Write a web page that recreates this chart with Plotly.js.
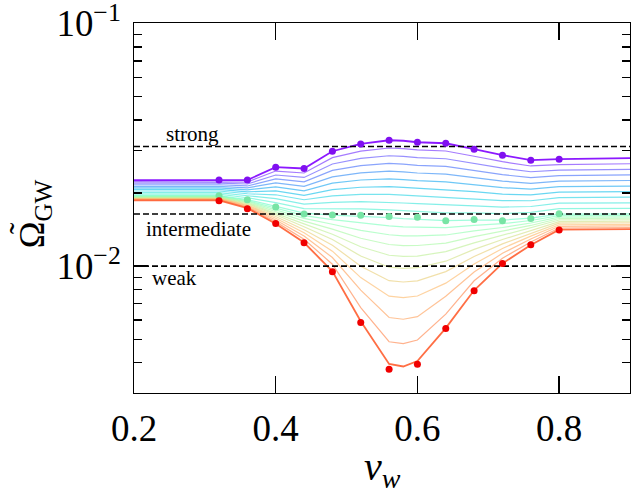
<!DOCTYPE html>
<html>
<head>
<meta charset="utf-8">
<script src="https://cdn.plot.ly/plotly-3.0.1.min.js"></script>
<style>html,body{margin:0;padding:0;background:#fff;}#chart{width:639px;height:493px;}</style>
</head>
<body>
<div id="chart"></div>
<script>
// wall velocity nodes
const vw = [0.2, 0.32, 0.36, 0.40, 0.44, 0.48, 0.52, 0.56, 0.58, 0.60, 0.64, 0.68, 0.72, 0.76, 0.80, 0.9];

// family of curves, from strong (c00) through intermediate (c10) to weak (c20)
const c00 = [0.02263,0.02263,0.02263,0.02559,0.02525,0.02975,0.03188,0.03302,0.03286,0.03240,0.03209,0.03033,0.02865,0.02733,0.02759,0.02785];
const c01 = [0.02230,0.02230,0.02221,0.02465,0.02420,0.02800,0.02977,0.03068,0.03052,0.03012,0.02982,0.02836,0.02694,0.02587,0.02619,0.02642];
const c02 = [0.02197,0.02197,0.02180,0.02374,0.02320,0.02635,0.02780,0.02851,0.02835,0.02800,0.02771,0.02651,0.02533,0.02449,0.02486,0.02506];
const c03 = [0.02165,0.02165,0.02140,0.02287,0.02224,0.02480,0.02596,0.02650,0.02633,0.02604,0.02575,0.02479,0.02382,0.02318,0.02360,0.02376];
const c04 = [0.02133,0.02133,0.02101,0.02203,0.02132,0.02334,0.02424,0.02462,0.02446,0.02420,0.02393,0.02318,0.02240,0.02194,0.02240,0.02254];
const c05 = [0.02101,0.02101,0.02062,0.02122,0.02044,0.02197,0.02264,0.02288,0.02272,0.02250,0.02224,0.02167,0.02106,0.02076,0.02126,0.02138];
const c06 = [0.02070,0.02070,0.02024,0.02044,0.01959,0.02068,0.02114,0.02126,0.02110,0.02092,0.02066,0.02026,0.01980,0.01965,0.02018,0.02028];
const c07 = [0.02040,0.02040,0.01987,0.01968,0.01878,0.01946,0.01974,0.01976,0.01960,0.01945,0.01920,0.01894,0.01862,0.01860,0.01915,0.01923];
const c08 = [0.02010,0.02010,0.01950,0.01896,0.01800,0.01832,0.01844,0.01836,0.01820,0.01808,0.01784,0.01771,0.01751,0.01761,0.01818,0.01824];
const c09 = [0.01980,0.01980,0.01914,0.01826,0.01726,0.01724,0.01722,0.01706,0.01691,0.01681,0.01658,0.01656,0.01646,0.01667,0.01726,0.01730];
const c10 = [0.01951,0.01951,0.01879,0.01759,0.01654,0.01622,0.01608,0.01585,0.01570,0.01563,0.01541,0.01548,0.01548,0.01577,0.01638,0.01641];
const c11 = [0.01943,0.01943,0.01864,0.01733,0.01614,0.01555,0.01506,0.01466,0.01452,0.01447,0.01442,0.01473,0.01496,0.01542,0.01616,0.01619];
const c12 = [0.01934,0.01934,0.01850,0.01706,0.01573,0.01488,0.01405,0.01347,0.01333,0.01332,0.01344,0.01398,0.01443,0.01506,0.01593,0.01597];
const c13 = [0.01926,0.01926,0.01835,0.01680,0.01533,0.01421,0.01303,0.01228,0.01215,0.01216,0.01245,0.01322,0.01391,0.01471,0.01571,0.01575];
const c14 = [0.01917,0.01917,0.01821,0.01654,0.01493,0.01354,0.01202,0.01109,0.01096,0.01100,0.01147,0.01247,0.01339,0.01435,0.01549,0.01553];
const c15 = [0.01909,0.01909,0.01806,0.01628,0.01453,0.01287,0.01100,0.00990,0.00978,0.00985,0.01048,0.01172,0.01287,0.01400,0.01526,0.01531];
const c16 = [0.01900,0.01900,0.01791,0.01601,0.01412,0.01220,0.00999,0.00871,0.00860,0.00869,0.00949,0.01096,0.01235,0.01364,0.01504,0.01509];
const c17 = [0.01892,0.01892,0.01777,0.01575,0.01372,0.01153,0.00897,0.00752,0.00741,0.00753,0.00851,0.01021,0.01183,0.01329,0.01481,0.01487];
const c18 = [0.01883,0.01883,0.01762,0.01549,0.01332,0.01085,0.00796,0.00614,0.00604,0.00619,0.00752,0.00946,0.01130,0.01293,0.01459,0.01465];
const c19 = [0.01875,0.01875,0.01748,0.01522,0.01291,0.01018,0.00674,0.00488,0.00479,0.00496,0.00634,0.00870,0.01078,0.01258,0.01436,0.01443];
const c20 = [0.01866,0.01866,0.01733,0.01496,0.01251,0.009512,0.00593,0.00395,0.003858,0.004064,0.005551,0.007949,0.01026,0.01222,0.01414,0.01421];
const curves = [c00,c01,c02,c03,c04,c05,c06,c07,c08,c09,c10,c11,c12,c13,c14,c15,c16,c17,c18,c19,c20];

// reference points
const refVw = [0.32, 0.36, 0.40, 0.44, 0.48, 0.52, 0.56, 0.60, 0.64, 0.68, 0.72, 0.76, 0.80];
const strongPts = [0.02262,0.02262,0.02558,0.02524,0.02975,0.03187,0.03301,0.03239,0.03209,0.03032,0.02864,0.02733,0.02759];
const interPts  = [0.01950,0.01878,0.01752,0.01641,0.01626,0.01620,0.01600,0.01589,0.01540,0.01555,0.01540,0.01570,0.01645];
const weakPts   = [0.01861,0.01725,0.01497,0.01247,0.009484,0.005856,0.003757,0.003938,0.005535,0.007925,0.01026,0.01224,0.01410];

// horizontal reference levels
const levelNames = ['strong', 'intermediate', 'weak'];
const levelValues = [0.0311, 0.01641, 0.01];
const xTicks = [0.2, 0.4, 0.6, 0.8];
const xTickText = ['0.2', '0.4', '0.6', '0.8'];

function rainbow(c) {
  const r = Math.min(1, Math.abs(2 * c - 0.5));
  const g = Math.sin(Math.PI * c);
  const b = Math.cos(Math.PI * c / 2);
  return 'rgb(' + Math.round(255 * r) + ',' + Math.round(255 * g) + ',' + Math.round(255 * b) + ')';
}

const FONT = 'Liberation Serif, Times New Roman, serif';
const traces = [];
const n = curves.length;
curves.forEach(function (ys, i) {
  const end = (i === 0 || i === n - 1);
  traces.push({
    x: vw, y: ys, type: 'scatter', mode: 'lines', hoverinfo: 'skip', showlegend: false,
    line: { color: rainbow(0.88 * i / (n - 1)), width: end ? 1.8 : 1.2 },
    opacity: end ? 0.9 : 0.6
  });
});
levelValues.forEach(function (v) {
  traces.push({
    x: [0.2, 0.9], y: [v, v], type: 'scatter', mode: 'lines', showlegend: false, hoverinfo: 'skip',
    line: { color: 'black', width: 1.6, dash: '6px,3px' }
  });
});
[[strongPts, 'rgb(128,16,240)'], [interPts, 'rgb(120,228,165)'], [weakPts, 'rgb(240,0,0)']].forEach(function (p) {
  traces.push({
    x: refVw, y: p[0], type: 'scatter', mode: 'markers', showlegend: false, hoverinfo: 'skip',
    marker: { color: p[1], size: 7 }
  });
});

const labelPos = [[0.283, 0.0350], [0.2915, 0.01427], [0.2577, 0.00890]];
const annotations = levelNames.map(function (t, i) {
  return { text: t, x: labelPos[i][0], y: Math.log10(labelPos[i][1]), xref: 'x', yref: 'y',
    xanchor: 'center', yanchor: 'middle',
    showarrow: false, font: { family: FONT, size: 21, color: 'black' } };
});
// y-axis label (Omega with tilde above)
annotations.push({ text: 'Ω<sub>GW</sub>', xref: 'paper', yref: 'paper', x: -0.2, y: 0.485,
  xanchor: 'center', yanchor: 'middle',
  textangle: -90, showarrow: false, font: { family: FONT, size: 36, color: 'black' } });
annotations.push({ text: '\u02DC', xref: 'paper', yref: 'paper', x: -0.226, y: 0.446,
  xanchor: 'center', yanchor: 'middle',
  textangle: -90, showarrow: false, font: { family: FONT, size: 34, color: 'black' } });
// x-axis label
annotations.push({ text: '<i>v</i><sub><i>w</i></sub>', xref: 'paper', yref: 'paper', x: 0.5, y: -0.205,
  xanchor: 'center', yanchor: 'middle',
  showarrow: false, font: { family: FONT, size: 40, color: 'black' } });

const layout = {
  width: 639, height: 493,
  margin: { l: 134, r: 9, t: 23, b: 100 },
  paper_bgcolor: 'white', plot_bgcolor: 'white',
  showlegend: false,
  xaxis: {
    range: [0.2, 0.9], tickmode: 'array', tickvals: xTicks, ticktext: xTickText,
    ticks: 'inside', ticklen: 17, tickwidth: 1.3, tickcolor: 'black',
    showline: true, linecolor: 'black', linewidth: 1.3, mirror: 'ticks',
    showgrid: false, zeroline: false, ticklabelstandoff: 2,
    tickfont: { family: FONT, size: 37, color: 'black' }
  },
  yaxis: {
    type: 'log', range: [Math.log10(0.003), -0.998], dtick: 1, exponentformat: 'power',
    ticks: 'inside', ticklen: 14, tickwidth: 1.3, tickcolor: 'black',
    minor: { dtick: 'D1', ticks: 'inside', ticklen: 8, tickwidth: 1.2, tickcolor: 'black', showgrid: false },
    showline: true, linecolor: 'black', linewidth: 1.3, mirror: 'ticks',
    showgrid: false, zeroline: false, ticklabelstandoff: 6, ticklabeloverflow: 'allow',
    tickfont: { family: FONT, size: 29.5, color: 'black' }
  },
  annotations: annotations
};

Plotly.newPlot('chart', traces, layout, { displayModeBar: false, staticPlot: true });
</script>
</body>
</html>
